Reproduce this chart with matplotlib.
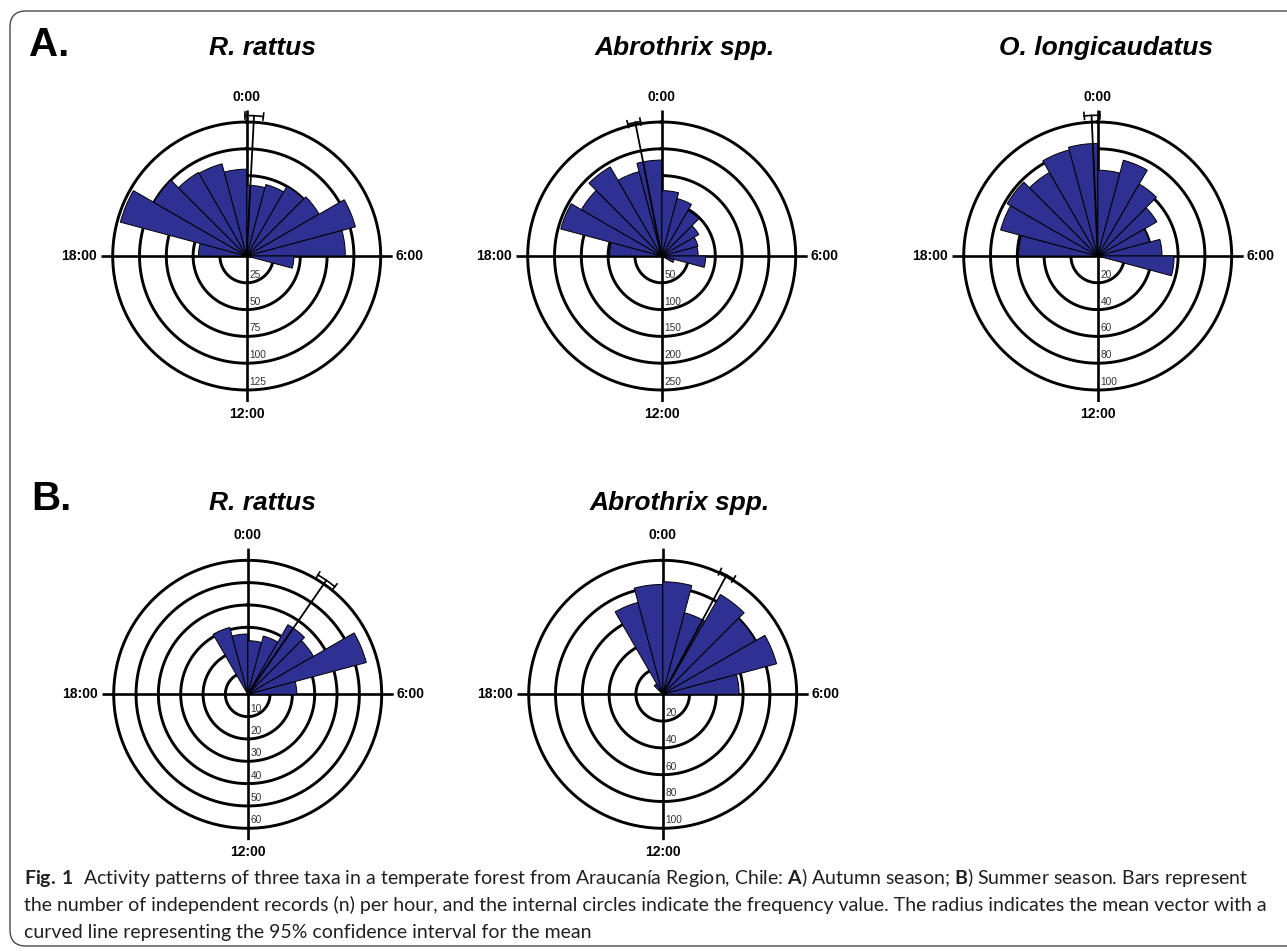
import numpy as np
import matplotlib
matplotlib.use('Agg')
import matplotlib.pyplot as plt
from matplotlib.patches import FancyBboxPatch
from matplotlib.transforms import IdentityTransform

plt.rcParams['font.family'] = ['Liberation Sans', 'DejaVu Sans']
plt.rcParams['mathtext.fontset'] = 'custom'
plt.rcParams['mathtext.rm'] = 'Lato'
plt.rcParams['mathtext.bf'] = 'Lato:bold'

W, H = 1287, 951          # output size in pixels
EXT = 146                 # pixel length of the 0/6/12/18 axis lines
RING_PX = 134             # pixel radius of the outermost ring
BLUE = '#2E3192'

# ---------------------------------------------------------------------------
# Data: independent records per hour (hour 0 = 0:00-1:00)
# ---------------------------------------------------------------------------
HOURS = np.arange(24)

AUT_RATTUS = [66, 69, 75, 78, 105, 92, 44,
              0, 0, 0, 0, 0, 0, 0, 0, 0, 0, 0,
              45, 122, 100, 90, 89, 81]
AUT_ABROTHRIX = [122, 111, 98, 80, 70, 68, 82, 24,
                 0, 0, 0, 0, 0, 0, 0, 0, 0, 0,
                 97, 195, 173, 192, 163, 179]
AUT_OLONG = [64, 74, 62, 51, 40, 48, 57,
             0, 0, 0, 0, 0, 0, 0, 0, 0, 0, 0,
             59, 75, 78, 72, 82, 84]
SUM_RATTUS = [24, 27, 36, 34, 55, 22,
              0, 0, 0, 0, 0, 0, 0, 0, 0, 0, 0, 0, 0, 0, 0, 0,
              31, 27]
SUM_ABROTHRIX = [84, 63, 86, 80, 88, 57,
                 0, 0, 0, 0, 0, 0, 0, 0, 0, 0, 0, 0, 0, 0, 0,
                 9, 71, 82]

# frequency rings
RINGS_AUT_RATTUS = [25, 50, 75, 100, 125]
RINGS_AUT_ABROTHRIX = [50, 100, 150, 200, 250]
RINGS_AUT_OLONG = [20, 40, 60, 80, 100]
RINGS_SUM_RATTUS = [10, 20, 30, 40, 50, 60]
RINGS_SUM_ABROTHRIX = [20, 40, 60, 80, 100]

# mean vector (degrees clockwise from 0:00), its drawn length and 95% CI
MEAN_ANGLE = [3.0, -11.2, -2.5, 34.6, 28.2]
MEAN_LENGTH = [131, 254, 105, 62, 101]
CI_LOW = [-0.7, -14.4, -5.5, 30.5, 25.0]
CI_HIGH = [6.8, -9.0, 0.9, 39.0, 31.6]

TITLES = ['R. rattus', 'Abrothrix spp.', 'O. longicaudatus',
          'R. rattus', 'Abrothrix spp.']
HOUR_LABELS = ['0:00', '6:00', '12:00', '18:00']

fig = plt.figure(figsize=(W / 100, H / 100), dpi=100)


def rose(counts, rings, center, mean_deg, mean_len, ci_lo, ci_hi):
    cx, cy = center
    ax = fig.add_axes([(cx - EXT) / W, 1 - (cy + EXT) / H, 2 * EXT / W, 2 * EXT / H],
                      projection='polar')
    ax.set_theta_zero_location('N')
    ax.set_theta_direction(-1)
    ax.axis('off')
    rlim = rings[-1] * EXT / RING_PX

    full = np.linspace(0, 2 * np.pi, 400)
    for r in rings:
        ax.plot(full, np.full_like(full, r), color='black', lw=2.1, zorder=1)
        ax.annotate(str(r), xy=(np.pi, r), xytext=(3, 3), textcoords='offset pixels',
                    ha='left', va='bottom', fontsize=7.3, color='#333333',
                    annotation_clip=False, zorder=5)
    for th in (0, np.pi / 2, np.pi, 1.5 * np.pi):
        ax.plot([th, th], [0, rlim], color='black', lw=1.9, zorder=1.5,
                solid_capstyle='butt')

    counts = np.asarray(counts)
    keep = counts > 0
    ax.bar(np.deg2rad(HOURS[keep] * 15), counts[keep], width=np.deg2rad(15),
           align='edge', color=BLUE, edgecolor='black', linewidth=0.7, zorder=2)

    # mean vector with its confidence arc
    m = np.deg2rad(mean_deg)
    ax.plot([m, m], [0, mean_len], color='black', lw=1.3, zorder=4)
    t = np.linspace(np.deg2rad(ci_lo), np.deg2rad(ci_hi), 40)
    ax.plot(t, np.full_like(t, mean_len), color='black', lw=1.2, zorder=4)
    d = 3.5 * rlim / EXT
    for c in (ci_lo, ci_hi):
        ax.plot([np.deg2rad(c)] * 2, [mean_len - d, mean_len + d],
                color='black', lw=1.2, zorder=4)

    # hour labels at the ends of the axis lines
    kw = dict(fontsize=10, fontweight='bold', textcoords='offset pixels',
              annotation_clip=False)
    ax.annotate(HOUR_LABELS[0], xy=(0, rlim), xytext=(0, 6), ha='center', va='bottom', **kw)
    ax.annotate(HOUR_LABELS[1], xy=(np.pi / 2, rlim), xytext=(3, 0), ha='left', va='center', **kw)
    ax.annotate(HOUR_LABELS[2], xy=(np.pi, rlim), xytext=(0, -5), ha='center', va='top', **kw)
    ax.annotate(HOUR_LABELS[3], xy=(1.5 * np.pi, rlim), xytext=(-4, 0), ha='right', va='center', **kw)
    ax.set_ylim(0, rlim)
    return ax


panels = [
    (AUT_RATTUS, RINGS_AUT_RATTUS, (246.7, 256.0)),
    (AUT_ABROTHRIX, RINGS_AUT_ABROTHRIX, (661.7, 256.0)),
    (AUT_OLONG, RINGS_AUT_OLONG, (1097.7, 256.0)),
    (SUM_RATTUS, RINGS_SUM_RATTUS, (247.7, 694.3)),
    (SUM_ABROTHRIX, RINGS_SUM_ABROTHRIX, (662.7, 694.3)),
]
title_pos = [(262, 55), (685, 55), (1106, 55), (262, 510), (680, 510)]

for i, (counts, rings, center) in enumerate(panels):
    rose(counts, rings, center, MEAN_ANGLE[i], MEAN_LENGTH[i], CI_LOW[i], CI_HIGH[i])
    tx, ty = title_pos[i]
    fig.text(tx / W, 1 - ty / H, TITLES[i], ha='center', va='baseline',
             fontsize=19, fontweight='bold', fontstyle='italic')

fig.text(29 / W, 1 - 56 / H, 'A.', fontsize=29, fontweight='bold', va='baseline', ha='left')
fig.text(31 / W, 1 - 510 / H, 'B.', fontsize=29, fontweight='bold', va='baseline', ha='left')

# rounded frame around the figure
frame = FancyBboxPatch((10, H - 946), 1320, 935, boxstyle='round,pad=0,rounding_size=16',
                       transform=IdentityTransform(), fill=False, edgecolor='#4a4a4a', lw=1.0)
fig.add_artist(frame)

# ---------------------------------------------------------------------------
# Caption (bold parts via mathtext so the whole line shares one baseline)
# ---------------------------------------------------------------------------
CAP_FONT = ['Lato', 'DejaVu Sans']
CAPTION = [
    r'$\mathbf{Fig.\,1}$  Activity patterns of three taxa in a temperate forest from '
    r'Araucanía Region, Chile: $\mathbf{A}$) Autumn season; $\mathbf{B}$) Summer season. '
    r'Bars represent',
    'the number of independent records (n) per hour, and the internal circles indicate '
    'the frequency value. The radius indicates the mean vector with a',
    'curved line representing the 95% confidence interval for the mean',
]
CAP_BASELINES = [884, 911, 938]
CAP_X0 = 24
renderer = fig.canvas.get_renderer()

probe = fig.text(0, 0, CAPTION[1], fontsize=12, family=CAP_FONT)
ref = probe.get_window_extent(renderer).width
probe.remove()
cap_size = 12 * (1262 - CAP_X0) / ref

for s, yb in zip(CAPTION, CAP_BASELINES):
    fig.text(CAP_X0 / W, 1 - yb / H, s, fontsize=cap_size, family=CAP_FONT,
             va='baseline', ha='left', color='#231f20')

fig.savefig('out.png', dpi=100)
